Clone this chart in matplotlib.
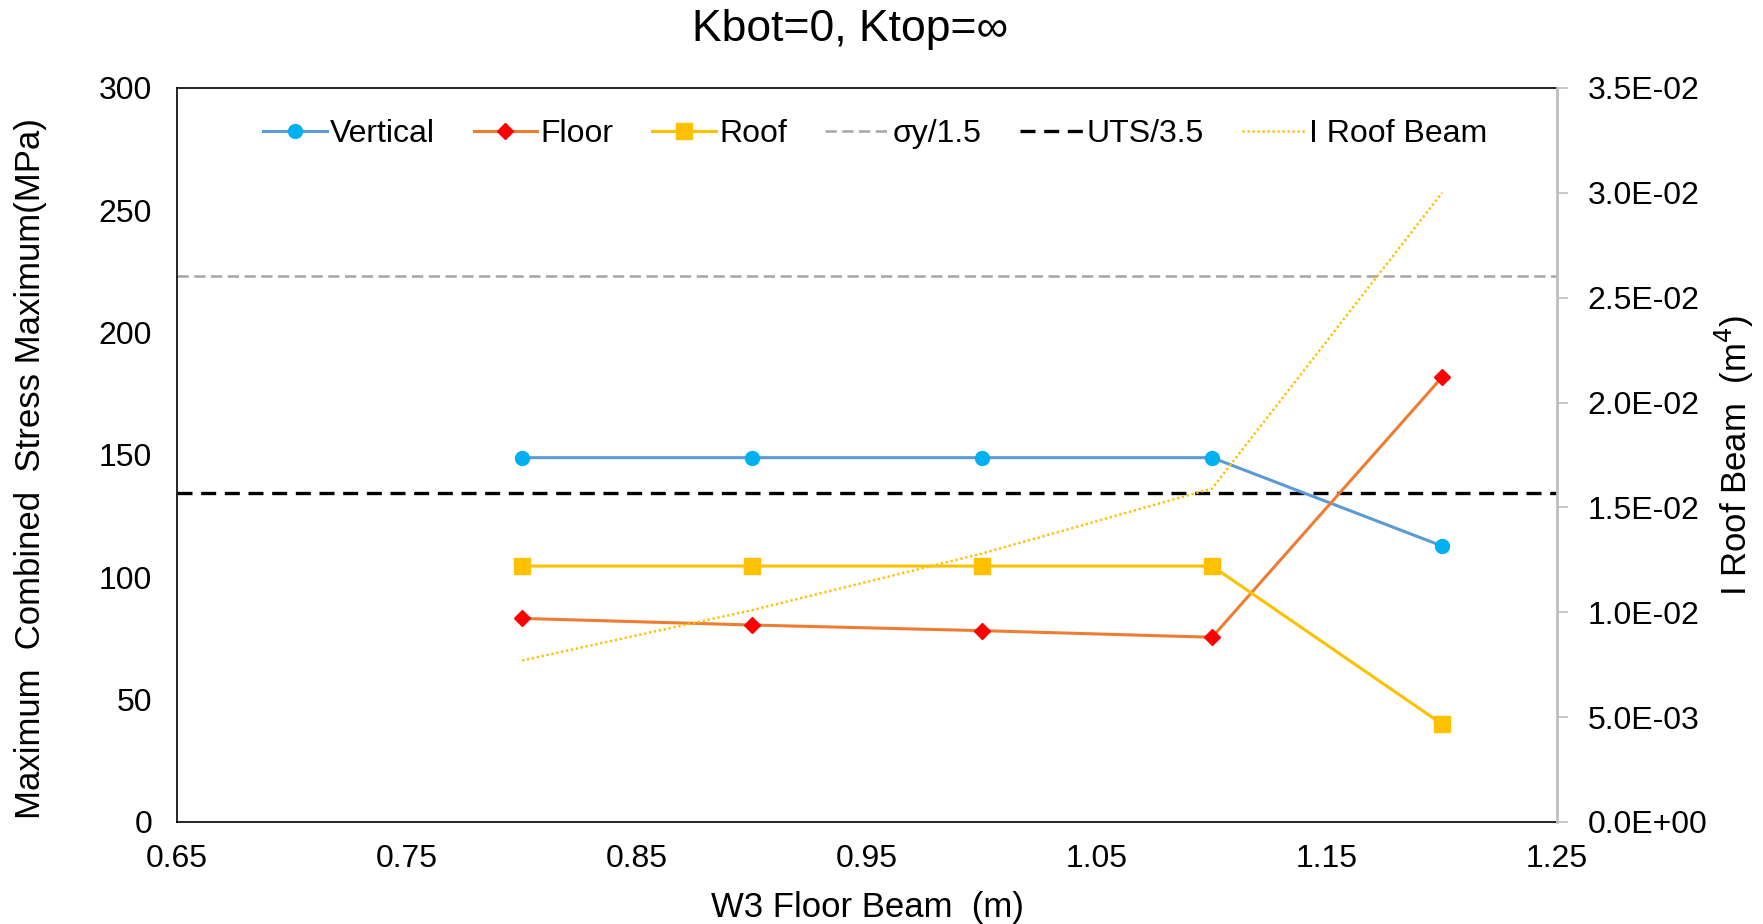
import matplotlib
matplotlib.use('Agg')
import matplotlib.pyplot as plt
from matplotlib.ticker import FuncFormatter, FixedLocator

plt.rcParams['font.family'] = ['Liberation Sans', 'DejaVu Sans']

# beam width of floor W3 (m)
w3 = [0.8, 0.9, 1.0, 1.1, 1.2]

# maximum combined stress (MPa)
vertical = [148.9, 148.9, 148.9, 148.9, 112.8]
floor = [83.2, 80.5, 78.2, 75.5, 181.8]
roof = [104.6, 104.6, 104.6, 104.6, 40.0]

# allowable limits (MPa)
sy_lim = 335 / 1.5
uts_lim = 470 / 3.5

# roof beam moment of inertia (m^4)
i_roof = [0.0077, 0.0101, 0.0128, 0.0159, 0.0300]

fig = plt.figure(figsize=(17.63, 9.24), dpi=100)
ax = fig.add_axes([0.1004, 0.1104, 0.7828, 0.7944])
ax2 = ax.twinx()

ax.plot(w3, vertical, '-o', color='#5B9BD5', lw=2.2, ms=10,
        mfc='#00B0F0', mec='#00B0F0', label='Vertical', zorder=5)
ax.plot(w3, floor, '-D', color='#ED7D31', lw=2.2, ms=8.5,
        mfc='#FF0000', mec='#FF0000', label='Floor', zorder=5)
ax.plot(w3, roof, '-s', color='#FFC000', lw=2.2, ms=11,
        mfc='#FFC000', mec='#FFC000', label='Roof', zorder=5)
ax.axhline(sy_lim, color='#A5A5A5', lw=1.8, dashes=(4.5, 2.2), label='σy/1.5')
ax.axhline(uts_lim, color='black', lw=2.4, dashes=(4.5, 2.6), label='UTS/3.5')
ln_i, = ax2.plot(w3, i_roof, color='#FFC000', lw=1.8, dashes=(0.9, 1.1),
                 label='I Roof Beam')

ax.set_xlim(0.65, 1.25)
ax.set_ylim(0, 300)
ax2.set_ylim(0, 0.035)
ax.xaxis.set_major_locator(FixedLocator([0.65, 0.75, 0.85, 0.95, 1.05, 1.15, 1.25]))
ax.xaxis.set_major_formatter(FuncFormatter(lambda v, p: f'{v:.2f}'))
ax.set_yticks(range(0, 301, 50))
ax2.set_yticks([i * 0.005 for i in range(8)])
ax2.yaxis.set_major_formatter(FuncFormatter(lambda v, p: f'{v:.1E}'))

ax.tick_params(axis='both', length=0, labelsize=23, pad=18)
ax.tick_params(axis='x', pad=16)
ax2.tick_params(axis='y', length=8, width=1.2, color='#BFBFBF', labelsize=23, pad=14)

for s in ['left', 'top', 'bottom']:
    ax.spines[s].set_color('black')
    ax.spines[s].set_linewidth(1.2)
ax.spines['right'].set_visible(False)
for s in ['left', 'top', 'bottom']:
    ax2.spines[s].set_visible(False)
ax2.spines['right'].set_color('#BFBFBF')
ax2.spines['right'].set_linewidth(2)

ax.set_xlabel('W3 Floor Beam  (m)', fontsize=25, labelpad=12)
ax.set_ylabel('Maximum  Combined  Stress Maximum(MPa)', fontsize=25)
ax.yaxis.set_label_coords(-0.094, 0.482)
ax2.set_ylabel('I Roof Beam  (m$^4$)', fontsize=25, labelpad=4)
ax.set_title('Kbot=0, Ktop=∞', fontsize=32, pad=34, x=0.488)

handles, labels = ax.get_legend_handles_labels()
handles.append(ln_i)
labels.append(ln_i.get_label())
ax.legend(handles, labels, loc='upper center', bbox_to_anchor=(0.506, 0.984),
          ncol=6, frameon=False, fontsize=23, handlelength=2.0,
          handletextpad=0.1, columnspacing=1.2, borderaxespad=0.2)

fig.savefig('out.png', dpi=100)
